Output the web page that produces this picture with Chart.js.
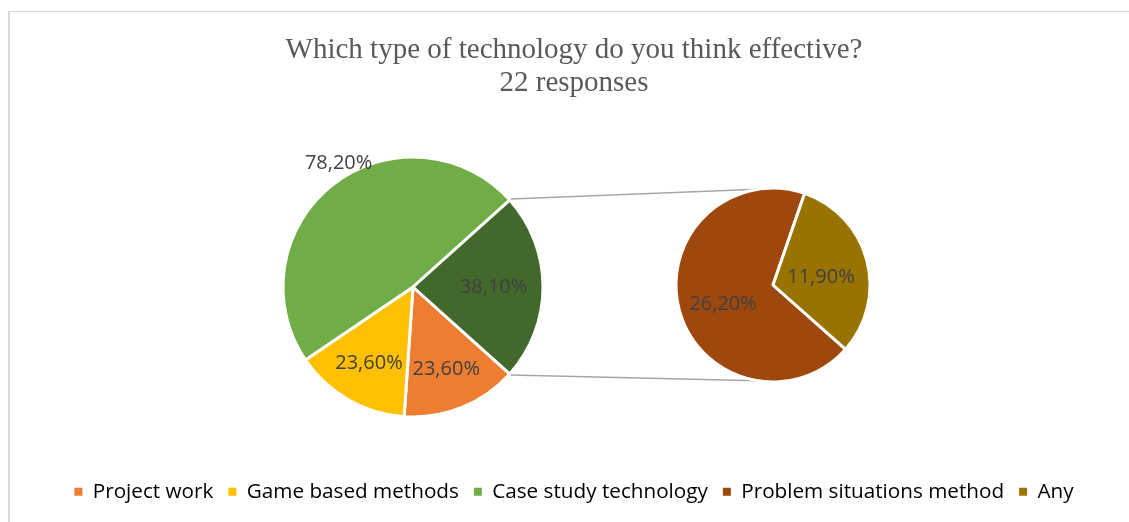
<!DOCTYPE html>
<html>
<head>
<meta charset="utf-8">
<script src="https://cdn.jsdelivr.net/npm/chart.js@4.4.0/dist/chart.umd.min.js"></script>
<style>
    html, body { margin: 0; padding: 0; background: #fff; overflow: hidden; }
    body { width: 1129px; height: 522px; position: relative; }
    #frame {
        position: absolute; left: 8px; top: 11px; width: 1200px; height: 600px;
        border-left: 2px solid #d9d9d9; border-top: 1px solid #d9d9d9;
    }
    #mainChart { position: absolute; left: 9px; top: 0; }
    #sideChart { position: absolute; left: 658px; top: 170px; }
</style>
</head>
<body>
<div id="frame"></div>
<canvas id="mainChart" width="1130" height="522"></canvas>
<canvas id="sideChart" width="230" height="230"></canvas>
<script>
// ---- datos ----
const titleLines = ['Which type of technology do you think effective?', '22 responses'];
const mainLabels = ['Project work', 'Game based methods', 'Case study technology'];
const mainValues = [23.6, 23.6, 78.2];
const sideLabels = ['Problem situations method', 'Any'];
const sideValues = [26.2, 11.9];

const mainColors = ['#ED7D31', '#FFC000', '#70AD47'];
const otherColor = '#43682B';
const sideColors = ['#9E480E', '#997300'];

// la porción "otro" del pie principal = suma del pie secundario
const otherValue = sideValues.reduce((a, b) => a + b, 0);

const fmtPct = v => v.toFixed(2).replace('.', ',') + '%';
const rad = d => d * Math.PI / 180;

// etiquetas de porcentaje sobre cada porción
const sliceLabels = {
    id: 'sliceLabels',
    afterDatasetsDraw(chart, args, opts) {
        const ctx = chart.ctx;
        const meta = chart.getDatasetMeta(0);
        const values = chart.data.datasets[0].data;
        ctx.save();
        ctx.font = opts.font;
        ctx.fillStyle = opts.color;
        ctx.textAlign = 'center';
        ctx.textBaseline = 'middle';
        meta.data.forEach((arc, i) => {
            const mid = (arc.startAngle + arc.endAngle) / 2 + rad(opts.turn[i] || 0);
            const r = arc.outerRadius * opts.radius[i];
            ctx.fillText(fmtPct(values[i]), arc.x + r * Math.cos(mid), arc.y + r * Math.sin(mid));
        });
        ctx.restore();
    }
};

// ubica el pie principal a la izquierda sin mover título ni leyenda
const pieArea = {
    id: 'pieArea',
    afterLayout(chart, args, opts) {
        const r = opts.size / 2;
        chart.chartArea = {
            left: opts.cx - r, right: opts.cx + r,
            top: opts.cy - r, bottom: opts.cy + r,
            width: opts.size, height: opts.size
        };
    }
};

const mainCanvas = document.getElementById('mainChart');
const sideCanvas = document.getElementById('sideChart');

const sideChart = new Chart(sideCanvas, {
    type: 'pie',
    data: {
        labels: sideLabels,
        datasets: [{
            data: sideValues,
            backgroundColor: sideColors,
            borderColor: '#ffffff',
            borderWidth: 3
        }]
    },
    options: {
        responsive: false,
        animation: false,
        events: [],
        radius: 97,
        rotation: 131.5,
        plugins: {
            legend: { display: false },
            title: { display: false },
            tooltip: { enabled: false },
            sliceLabels: {
                font: '20px "Open Sans"',
                color: '#404040',
                radius: [0.55, 0.5],
                turn: [-6, 6]
            }
        }
    },
    plugins: [sliceLabels]
});

// líneas que unen la porción "otro" con el pie secundario
const connectors = {
    id: 'connectors',
    afterDatasetsDraw(chart, args, opts) {
        const ctx = chart.ctx;
        const arc = chart.getDatasetMeta(0).data[mainValues.length];
        const sArc = sideChart.getDatasetMeta(0).data[0];
        const offX = sideCanvas.offsetLeft - mainCanvas.offsetLeft;
        const offY = sideCanvas.offsetTop - mainCanvas.offsetTop;
        const sx = sArc.x + offX, sy = sArc.y + offY, sr = sArc.outerRadius;
        const r = arc.outerRadius + 1.5;
        const a1 = -Math.PI / 2 - rad(opts.spread);
        const a2 = Math.PI / 2 + rad(opts.spread);
        ctx.save();
        ctx.strokeStyle = opts.color;
        ctx.lineWidth = opts.width;
        ctx.beginPath();
        ctx.moveTo(arc.x + r * Math.cos(arc.startAngle), arc.y + r * Math.sin(arc.startAngle));
        ctx.lineTo(sx + sr * Math.cos(a1), sy + sr * Math.sin(a1));
        ctx.moveTo(arc.x + r * Math.cos(arc.endAngle), arc.y + r * Math.sin(arc.endAngle));
        ctx.lineTo(sx + sr * Math.cos(a2), sy + sr * Math.sin(a2));
        ctx.stroke();
        ctx.restore();
    }
};

const legendItems = [
    ...mainLabels.map((t, i) => ({ text: t, color: mainColors[i] })),
    ...sideLabels.map((t, i) => ({ text: t, color: sideColors[i] }))
];

new Chart(mainCanvas, {
    type: 'pie',
    data: {
        labels: [...mainLabels, 'Other'],
        datasets: [{
            data: [...mainValues, otherValue],
            backgroundColor: [...mainColors, otherColor],
            borderColor: '#ffffff',
            borderWidth: 3
        }]
    },
    options: {
        responsive: false,
        animation: false,
        events: [],
        radius: 130,
        rotation: 131.95,
        layout: { padding: { top: 0, bottom: 10 } },
        plugins: {
            title: {
                display: true,
                text: titleLines,
                color: '#595959',
                font: { family: 'Liberation Serif', size: 29, weight: 'normal', lineHeight: 1.14 },
                padding: { top: 34, bottom: 0 }
            },
            legend: {
                position: 'bottom',
                labels: {
                    color: '#595959',
                    font: { family: 'Open Sans', size: 20.7 },
                    boxWidth: 8,
                    boxHeight: 8,
                    padding: 15,
                    generateLabels: () => legendItems.map((it, i) => ({
                        text: it.text,
                        fillStyle: it.color,
                        strokeStyle: it.color,
                        lineWidth: 0,
                        hidden: false,
                        index: i
                    }))
                }
            },
            tooltip: { enabled: false },
            pieArea: { cx: 404, cy: 287, size: 260 },
            sliceLabels: {
                font: '20px "Open Sans"',
                color: '#404040',
                radius: [0.68, 0.68, 1.11, 0.62],
                turn: [0, 0, 7, 0]
            },
            connectors: { color: '#a6a6a6', width: 1.5, spread: 9.5 }
        }
    },
    plugins: [pieArea, sliceLabels, connectors]
});
</script>
</body>
</html>
